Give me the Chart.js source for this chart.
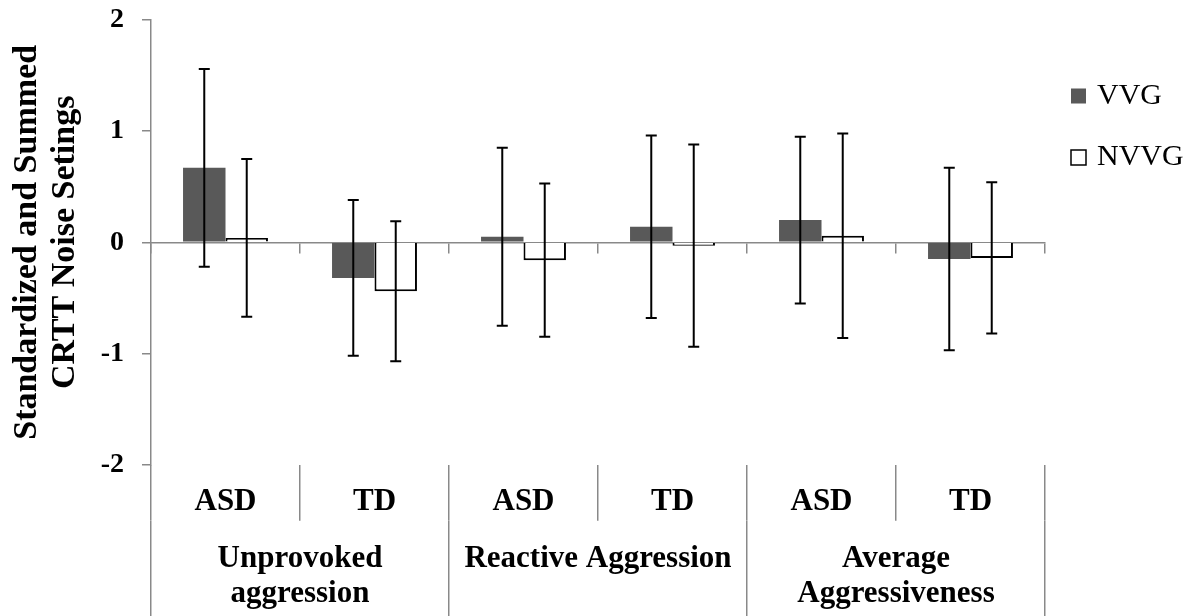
<!DOCTYPE html>
<html>
<head>
<meta charset="utf-8">
<script src="https://cdn.jsdelivr.net/npm/chart.js@4.4.1/dist/chart.umd.min.js"></script>
<style>
  html, body { margin: 0; padding: 0; background: #fff; }
</style>
</head>
<body>
<canvas id="aggressionChart" width="1195" height="616"></canvas>
<script>
// categories
var subLabels = ['ASD', 'TD', 'ASD', 'TD', 'ASD', 'TD'];
var groupLabels = [['Unprovoked', 'aggression'], 'Reactive Aggression', ['Average', 'Aggressiveness']];
var yTickValues = [-2, -1, 0, 1, 2];

// series (means and error bar half-lengths)
var vvgMeans = [0.67, -0.32, 0.05, 0.14, 0.20, -0.15];
var vvgErrors = [0.89, 0.70, 0.80, 0.82, 0.75, 0.82];
var nvvgMeans = [0.04, -0.44, -0.16, -0.03, 0.06, -0.14];
var nvvgErrors = [0.71, 0.63, 0.69, 0.91, 0.92, 0.68];

var axisGray = '#898989';
Chart.defaults.font.family = '"Liberation Serif", "Times New Roman", serif';
Chart.defaults.color = '#000';

// error bars, drawn last so they sit on top of the zero line
var errorBars = {
    id: 'errorBars',
    afterDraw: function (chart) {
        var ctx = chart.ctx;
        var yScale = chart.scales.y;
        ctx.save();
        ctx.strokeStyle = '#000';
        ctx.lineWidth = 2;
        chart.data.datasets.forEach(function (ds, i) {
            var meta = chart.getDatasetMeta(i);
            meta.data.forEach(function (bar, j) {
                var top = yScale.getPixelForValue(ds.data[j] + ds.errors[j]);
                var bottom = yScale.getPixelForValue(ds.data[j] - ds.errors[j]);
                ctx.beginPath();
                ctx.moveTo(bar.x, top);
                ctx.lineTo(bar.x, bottom);
                ctx.moveTo(bar.x - 5.5, top);
                ctx.lineTo(bar.x + 5.5, top);
                ctx.moveTo(bar.x - 5.5, bottom);
                ctx.lineTo(bar.x + 5.5, bottom);
                ctx.stroke();
            });
        });
        ctx.restore();
    }
};

// legend on the right, Excel style
var sideLegend = {
    id: 'sideLegend',
    afterDraw: function (chart) {
        var ctx = chart.ctx;
        var x = chart.chartArea.right + 26;
        var y = 96;
        ctx.save();
        ctx.font = '30px "Liberation Serif"';
        ctx.textBaseline = 'middle';
        chart.data.datasets.forEach(function (ds) {
            ctx.fillStyle = ds.backgroundColor;
            ctx.fillRect(x, y - 7.5, 15, 15);
            if (ds.borderWidth) {
                ctx.lineWidth = 1.5;
                ctx.strokeStyle = ds.borderColor;
                ctx.strokeRect(x, y - 7.5, 15, 15);
            }
            ctx.fillStyle = '#000';
            ctx.fillText(ds.label, x + 26, y);
            y += 61.5;
        });
        ctx.restore();
    }
};

new Chart(document.getElementById('aggressionChart'), {
    type: 'bar',
    data: {
        labels: subLabels,
        datasets: [{
            label: 'VVG',
            data: vvgMeans,
            errors: vvgErrors,
            backgroundColor: '#595959',
            borderWidth: 0
        }, {
            label: 'NVVG',
            data: nvvgMeans,
            errors: nvvgErrors,
            backgroundColor: '#ffffff',
            borderColor: '#000000',
            borderWidth: 2
        }]
    },
    options: {
        responsive: false,
        animation: false,
        layout: {padding: {top: 20, right: 150, bottom: 0, left: 0}},
        datasets: {
            bar: {categoryPercentage: 0.57, barPercentage: 1}
        },
        plugins: {
            legend: {display: false},
            tooltip: {enabled: false}
        },
        scales: {
            x: {
                position: {y: 0},
                offset: true,
                z: 1,
                ticks: {display: false},
                grid: {offset: true, drawOnChartArea: false, tickLength: 10, color: axisGray, lineWidth: 1.5},
                border: {color: axisGray, width: 1.5}
            },
            xSub: {
                type: 'category',
                labels: subLabels,
                position: 'bottom',
                offset: true,
                ticks: {font: {size: 31, weight: 'bold', lineHeight: 1.15}, padding: -37, maxRotation: 0, autoSkip: false},
                grid: {offset: true, drawOnChartArea: false, tickLength: 56, color: axisGray, lineWidth: 1.5},
                border: {display: false},
                afterFit: function (scale) { scale.height = 56; }
            },
            xGroup: {
                type: 'category',
                labels: groupLabels,
                position: 'bottom',
                offset: true,
                ticks: {font: {size: 31, weight: 'bold', lineHeight: 1.15}, padding: -76, maxRotation: 0, autoSkip: false},
                grid: {offset: true, drawOnChartArea: false, tickLength: 96, color: axisGray, lineWidth: 1.5},
                border: {display: false},
                afterFit: function (scale) { scale.height = 95.3; }
            },
            y: {
                min: -2,
                max: 2,
                afterBuildTicks: function (scale) {
                    scale.ticks = yTickValues.map(function (v) { return {value: v}; });
                },
                ticks: {font: {size: 28, weight: 'bold'}, padding: 18},
                grid: {drawOnChartArea: false, tickLength: 9, color: axisGray, lineWidth: 1.5},
                border: {color: axisGray, width: 1.5},
                title: {
                    display: true,
                    text: ['Standardized and Summed', 'CRTT Noise Setings'],
                    font: {size: 34, weight: 'bold', lineHeight: 1.1},
                    padding: {top: 9, bottom: 0}
                },
                afterFit: function (scale) {
                    scale.width = 151;
                    // tick padding should not push the plot area down
                    scale.paddingTop = 0;
                    scale.paddingBottom = 0;
                }
            }
        }
    },
    plugins: [errorBars, sideLegend]
});
</script>
</body>
</html>
